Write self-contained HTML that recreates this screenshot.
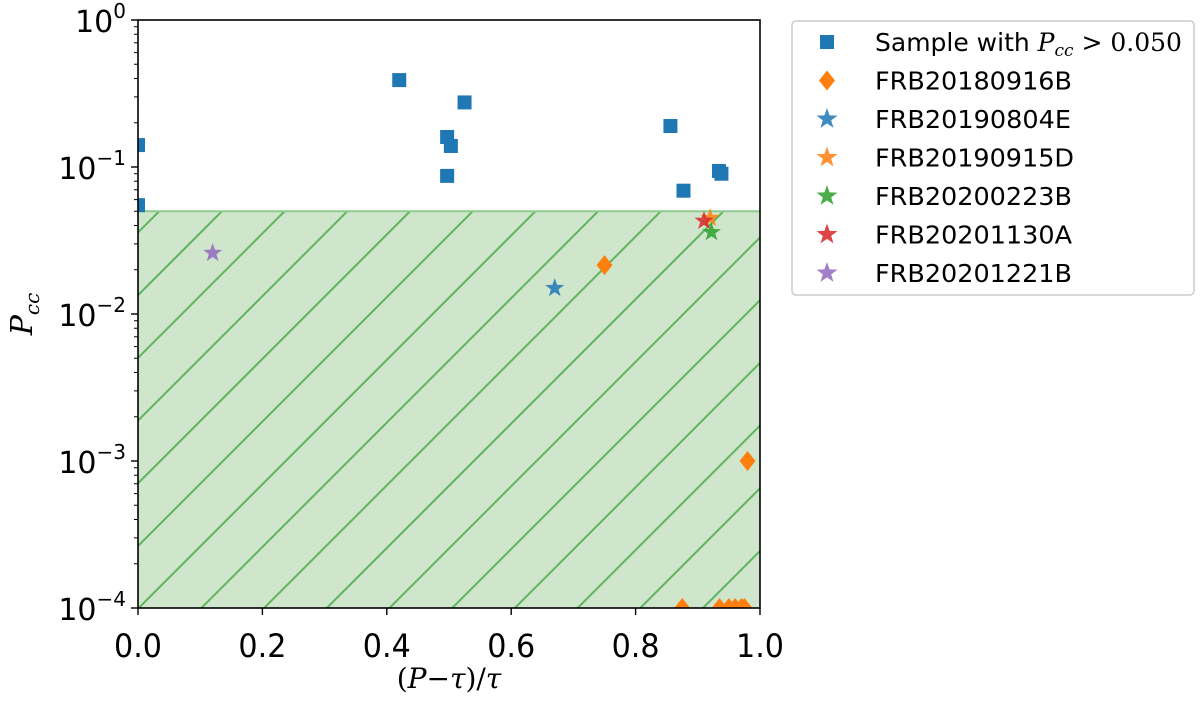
<!DOCTYPE html>
<html><head><meta charset="utf-8"><style>
body{margin:0;background:#fff;}
svg{display:block;font-family:"DejaVu Sans","Liberation Sans",sans-serif;}
</style></head><body>
<svg id="chart" width="1200" height="701" viewBox="0 0 1200 701" xmlns="http://www.w3.org/2000/svg">
<defs>
<pattern id="hatch" patternUnits="userSpaceOnUse" width="62.7" height="62.7" x="159.5" y="211">
<line x1="-5" y1="67.7" x2="67.7" y2="-5" stroke="#5cb25c" stroke-width="2"/>
<line x1="-20" y1="20" x2="20" y2="-20" stroke="#5cb25c" stroke-width="2"/>
<line x1="42.7" y1="82.7" x2="82.7" y2="42.7" stroke="#5cb25c" stroke-width="2"/>
</pattern>
<clipPath id="plotclip"><rect x="138" y="20" width="622" height="588"/></clipPath>
</defs>
<g id="plot" clip-path="url(#plotclip)"></g>
<g id="axes"></g>
</svg>
<script>
const sampleX=[0.0,0.0,0.42,0.525,0.497,0.503,0.497,0.856,0.877,0.934,0.938];
const sampleY=[0.141,0.055,0.39,0.275,0.16,0.139,0.087,0.19,0.069,0.094,0.09];
const frb16X=[0.75,0.98,0.875,0.935,0.95,0.96,0.97,0.975];
const frb16Y=[0.0215,0.001,0.0001,0.0001,0.0001,0.0001,0.0001,0.0001];
const starNames=["FRB20190804E","FRB20190915D","FRB20200223B","FRB20201130A","FRB20201221B"];
const starX=[0.67,0.92,0.922,0.91,0.12];
const starY=[0.015,0.045,0.036,0.043,0.026];
const starColors=["#1f77b4","#ff7f0e","#2ca02c","#d62728","#9467bd"];
const threshold=0.05;
const xTicks=[0,0.2,0.4,0.6,0.8,1.0];
const xTickLabels=["0.0","0.2","0.4","0.6","0.8","1.0"];
const yDecades=[0,-1,-2,-3,-4];

const NS="http://www.w3.org/2000/svg";
const L=138,R=760,T=20,B=608;
const xs=v=>L+v*(R-L);
const ys=v=>T+(-Math.log10(v))*(B-T)/4;
function mk(tag,attrs,parent){const e=document.createElementNS(NS,tag);for(const k in attrs)e.setAttribute(k,attrs[k]);parent.appendChild(e);return e;}
const plot=document.getElementById('plot');
const axes=document.getElementById('axes');
const svg=document.getElementById('chart');

let r=mk('rect',{x:L,y:ys(threshold),width:R-L,height:B-ys(threshold),fill:'#cfe6cc'},plot);


let rh=mk('rect',{x:L,y:ys(threshold),width:R-L,height:B-ys(threshold),fill:'url(#hatch)'},plot);


let tl=mk('line',{x1:L,x2:R,y1:ys(threshold),y2:ys(threshold),stroke:'#8fca8f','stroke-width':2},plot);



function square(x,y,parent,c){return mk('rect',{x:x-7,y:y-7,width:14,height:14,fill:c},parent);}
function diamond(x,y,parent,c){return mk('polygon',{points:`${x},${y-10} ${x+8},${y} ${x},${y+10} ${x-8},${y}`,fill:c},parent);}
function star(x,y,parent,c,s){s=s||10;let p=[];for(let i=0;i<10;i++){const a=-Math.PI/2+i*Math.PI/5;const rr=i%2?s*0.4:s;p.push((x+rr*Math.cos(a)).toFixed(1)+','+(y+rr*Math.sin(a)).toFixed(1));}return mk('polygon',{points:p.join(' '),fill:c,'fill-opacity':0.85},parent);}

for(let i=0;i<sampleX.length;i++){
 const m=square(xs(sampleX[i]),ys(sampleY[i]),plot,'#1f77b4');
 
 
}
for(let i=0;i<frb16X.length;i++){
 const m=diamond(xs(frb16X[i]),ys(frb16Y[i]),plot,'#ff7f0e');
 
 
}
for(let i=0;i<starX.length;i++){
 const m=star(xs(starX[i]),ys(starY[i]),plot,starColors[i]);
 
 
}

let f=mk('rect',{x:L,y:T,width:R-L,height:B-T,fill:'none',stroke:'#000','stroke-width':1.6},axes);



xTicks.forEach((v,i)=>{
 const t=mk('line',{x1:xs(v),x2:xs(v),y1:B,y2:B+7,stroke:'#000','stroke-width':1.4},axes);
 
 
 const tx=mk('text',{x:xs(v),y:B+49,'font-size':32,'text-anchor':'middle',textLength:48,lengthAdjust:'spacingAndGlyphs'},axes);
 tx.textContent=xTickLabels[i];
 
 
});
yDecades.forEach(d=>{
 const y=ys(Math.pow(10,d));
 const t=mk('line',{x1:L-7,x2:L,y1:y,y2:y,stroke:'#000','stroke-width':1.4},axes);
 
 
 const tx=mk('text',{x:L-12,y:y+12,'font-size':30,'text-anchor':'end'},axes);
 tx.innerHTML='10<tspan dy="-14" font-size="20">'+(d<0?'\u2212'+(-d):d)+'</tspan>';
 
 
 if(d>-4){for(let k=2;k<10;k++){
  const yy=ys(k*Math.pow(10,d-1));
  const mt=mk('line',{x1:L-4,x2:L,y1:yy,y2:yy,stroke:'#000','stroke-width':1},axes);
  
  
 }}
});
let xt=mk('text',{x:449,y:688,'font-size':28,'text-anchor':'middle','font-family':'"DejaVu Serif","Liberation Serif",serif'},axes);
xt.innerHTML='(<tspan font-style="italic">P</tspan>\u2212<tspan font-style="italic">τ</tspan>)/<tspan font-style="italic">τ</tspan>';


let yt=mk('text',{x:0,y:0,'font-size':30,'text-anchor':'middle','font-family':'"DejaVu Serif","Liberation Serif",serif',transform:'translate(32,314) rotate(-90)'},axes);
yt.innerHTML='<tspan font-style="italic">P</tspan><tspan font-style="italic" font-size="20" dy="7">cc</tspan>';



const lg=mk('g',{},svg);


mk('rect',{x:792,y:21,width:402,height:274,rx:4,fill:'#fff',stroke:'#ccc','stroke-width':1.5},lg);
const legLabels=[null,"FRB20180916B"].concat(starNames);
const legWidths=[0,197,196,199,197,197,197];
for(let i=0;i<7;i++){
 const y=42+i*38.5;
 let m;
 if(i===0)m=square(827,y,lg,'#1f77b4');
 else if(i===1)m=diamond(827,y,lg,'#ff7f0e');
 else m=star(827,y,lg,starColors[i-2],11);
 let tx;
 if(i===0){
  tx=mk('text',{x:875,y:y+9,'font-size':25},lg);
  tx.innerHTML='Sample with <tspan font-style="italic" font-family="DejaVu Serif,serif">P</tspan><tspan font-style="italic" font-size="17" dy="5" font-family="DejaVu Serif,serif">cc</tspan><tspan dy="-5" font-family="DejaVu Serif,serif"> &gt; 0.050</tspan>';
 } else {
  tx=mk('text',{x:875,y:y+9,'font-size':25,textLength:legWidths[i],lengthAdjust:'spacingAndGlyphs'},lg);
  tx.textContent=legLabels[i];
 }
 
 
}
</script>
</body></html>
